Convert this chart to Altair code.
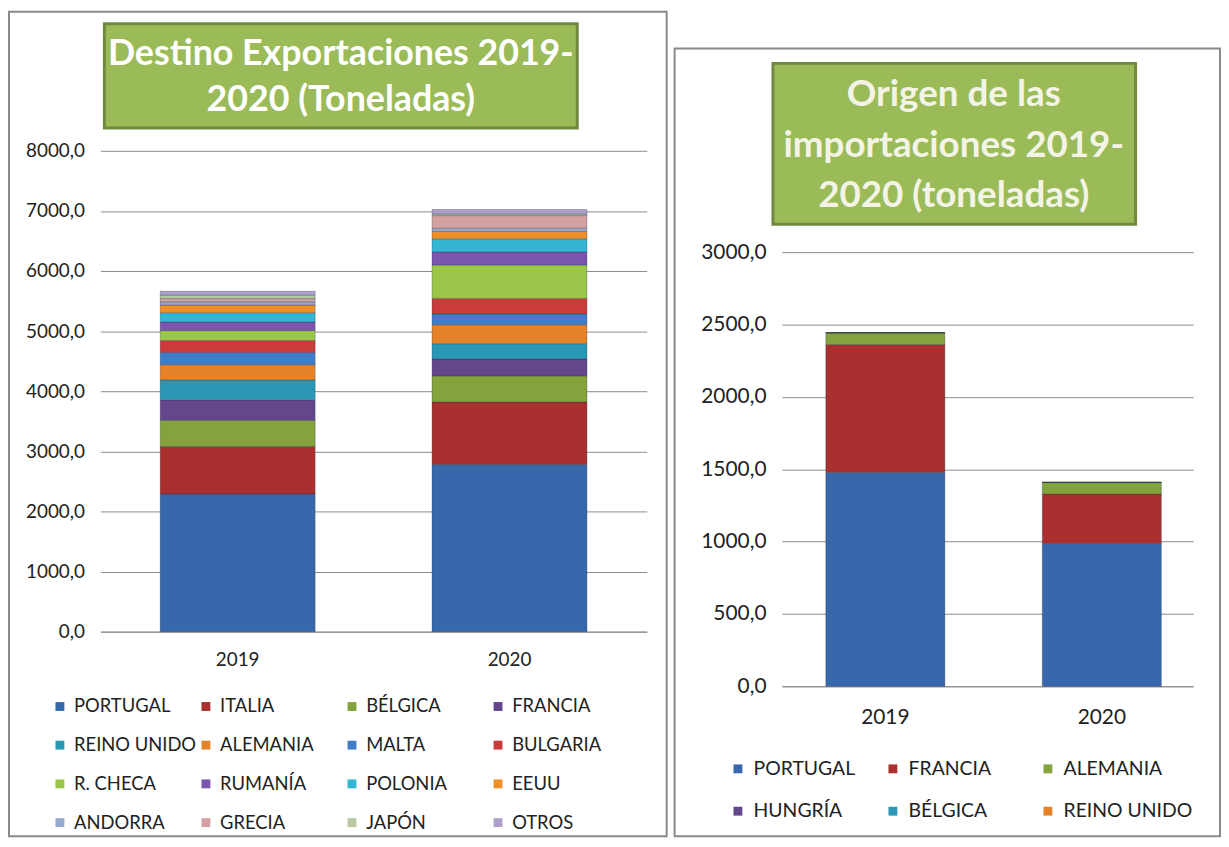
import altair as alt
import pandas as pd

# ---------- data ----------
years = ["2019", "2020"]

exp_countries = ["PORTUGAL", "ITALIA", "BÉLGICA", "FRANCIA", "REINO UNIDO", "ALEMANIA",
                 "MALTA", "BULGARIA", "R. CHECA", "RUMANÍA", "POLONIA", "EEUU",
                 "ANDORRA", "GRECIA", "JAPÓN", "OTROS"]
exp_2019 = [2290, 790, 436, 340, 331, 254, 204, 198, 165, 144, 154, 127, 55, 54, 56, 66]
exp_2020 = [2780, 1040, 435, 281, 254, 314, 182, 258, 557, 215, 220, 122, 55, 209, 27, 73]
exp_colors = ["#3868AC", "#A9302F", "#85A33C", "#64468C", "#2A98B4", "#E5832A",
              "#3F7DCB", "#CC3B3B", "#9CC64A", "#7B55AE", "#33B6D4", "#F08F2A",
              "#97A8CF", "#D3A2A0", "#B9C99F", "#AFA0C9"]

imp_countries = ["PORTUGAL", "FRANCIA", "ALEMANIA", "HUNGRÍA", "BÉLGICA", "REINO UNIDO"]
imp_2019 = [1478, 883, 82, 0, 0, 0]
imp_2020 = [986, 343, 80, 0, 0, 0]
imp_colors = ["#3868AC", "#A9302F", "#85A33C", "#64468C", "#2A98B4", "#E5832A"]

exp_ticks = [0, 1000, 2000, 3000, 4000, 5000, 6000, 7000, 8000]
imp_ticks = [0, 500, 1000, 1500, 2000, 2500, 3000]

title_exp = ["Destino Exportaciones 2019-", "2020 (Toneladas)"]
title_imp = ["Origen de las", "importaciones 2019-", "2020 (toneladas)"]

# ---------- tables ----------
rows = []
for i, c in enumerate(exp_countries):
    rows.append({"año": years[0], "destino": c, "t": exp_2019[i], "idx": i})
    rows.append({"año": years[1], "destino": c, "t": exp_2020[i], "idx": i})
df_exp = pd.DataFrame(rows)

rows = []
for i, c in enumerate(imp_countries):
    rows.append({"año": years[0], "origen": c, "t": imp_2019[i], "idx": i})
    rows.append({"año": years[1], "origen": c, "t": imp_2020[i], "idx": i})
df_imp = pd.DataFrame(rows)

FONT = "Lato"
LBL = "replace(format(datum.value, '.1f'), '.', ',')"
one = alt.Data(values=[{"a": 1}])


def row_major(items, cols):
    # Vega fills legend grids column by column; reorder so it reads row by row
    nrows = -(-len(items) // cols)
    return [items[(i % nrows) * cols + i // nrows] for i in range(len(items))]


def panel(df, field, countries, colors, ticks, ydom, w, h, pin, pout, align,
          frame, box, title_lines, title_x, title_y0, title_dy,
          leg_cols, leg_x, leg_y, leg_colpad, leg_rowpad, leg_off, fs_axis, fs_leg, fs_title,
          title_color, xlab_pad):
    bars = alt.Chart(df).mark_bar(stroke="#1f2f44", strokeWidth=0.6, strokeOpacity=0.5).encode(
        x=alt.X("año:N", title=None,
                scale=alt.Scale(paddingInner=pin, paddingOuter=pout, align=align),
                axis=alt.Axis(labelAngle=0, ticks=False, domain=True, domainColor="#8c8c8c",
                              labelFont=FONT, labelFontSize=fs_axis, labelColor="#222",
                              labelPadding=xlab_pad, grid=False)),
        y=alt.Y("t:Q", stack="zero", title=None,
                scale=alt.Scale(domain=[0, ydom], nice=False),
                axis=alt.Axis(values=ticks, labelExpr=LBL, grid=True, gridColor="#8c8c8c",
                              domain=False, ticks=False, labelFont=FONT,
                              labelFontSize=fs_axis, labelColor="#222", labelPadding=16)),
        color=alt.Color(f"{field}:N", title=None,
                        scale=alt.Scale(domain=countries, range=colors),
                        legend=alt.Legend(orient="none", legendX=leg_x, legendY=leg_y,
                                          values=row_major(countries, leg_cols),
                                          columns=leg_cols, gridAlign="all",
                                          columnPadding=leg_colpad, rowPadding=leg_rowpad,
                                          symbolType="square", symbolSize=80,
                                          symbolStrokeWidth=0, labelFont=FONT,
                                          labelFontSize=fs_leg, labelColor="#222",
                                          labelOffset=leg_off, padding=0)),
        order=alt.Order("idx:Q", sort="ascending"),
    )
    fr = alt.Chart(one).mark_rect(fillOpacity=0, stroke="#8a8a8a", strokeWidth=2).encode(
        x=alt.value(frame[0]), x2=alt.value(frame[1]),
        y=alt.value(frame[2]), y2=alt.value(frame[3]))
    bx = alt.Chart(one).mark_rect(fill="#9BBB59", stroke="#71893F", strokeWidth=3).encode(
        x=alt.value(box[0]), x2=alt.value(box[1]),
        y=alt.value(box[2]), y2=alt.value(box[3]))
    texts = []
    for k, line in enumerate(title_lines):
        texts.append(alt.Chart(one).mark_text(
            text=line, font=FONT, fontWeight="bold", fontSize=fs_title, color=title_color,
            align="center", baseline="middle").encode(
            x=alt.value(title_x), y=alt.value(title_y0 + k * title_dy)))
    return alt.layer(fr, bx, *texts, bars).properties(width=w, height=h)


# Both plot areas start at the same height; the import chart's value axis is
# stretched so that its 3000 gridline sits lower, as in the reference.
left = panel(df_exp, "destino", exp_countries, exp_colors, exp_ticks, 8000, 550, 484,
             0.43, 0.22, 0.5,
             frame=(-92, 570, -140, 690),
             box=(4, 480, -128, -23), title_lines=title_exp,
             title_x=242, title_y0=-97, title_dy=46,
             leg_cols=4, leg_x=-50, leg_y=550, leg_colpad=0, leg_rowpad=20, leg_off=5,
             fs_axis=19, fs_leg=18.5, fs_title=36, title_color="#ffffff", xlab_pad=19)

right = panel(df_imp, "origen", imp_countries, imp_colors, imp_ticks, 3000 * 539 / 437,
              414, 539, 0.45, 0.175, 0.58,
              frame=(-108, 441, -103, 690),
              box=(-9, 356, -88, 74), title_lines=title_imp,
              title_x=173, title_y0=-56, title_dy=51,
              leg_cols=3, leg_x=-54, leg_y=612, leg_colpad=0, leg_rowpad=22, leg_off=6,
              fs_axis=21, fs_leg=19.5, fs_title=37, title_color="#F4F4E6", xlab_pad=20)

chart = alt.hconcat(left, right, spacing=6).resolve_scale(
    color="independent", x="independent", y="independent"
).resolve_legend(color="independent").configure(
    padding=0, background="white"
).configure_view(stroke=None)

chart.save("out.html", embed_options={"renderer": "svg", "actions": False})
